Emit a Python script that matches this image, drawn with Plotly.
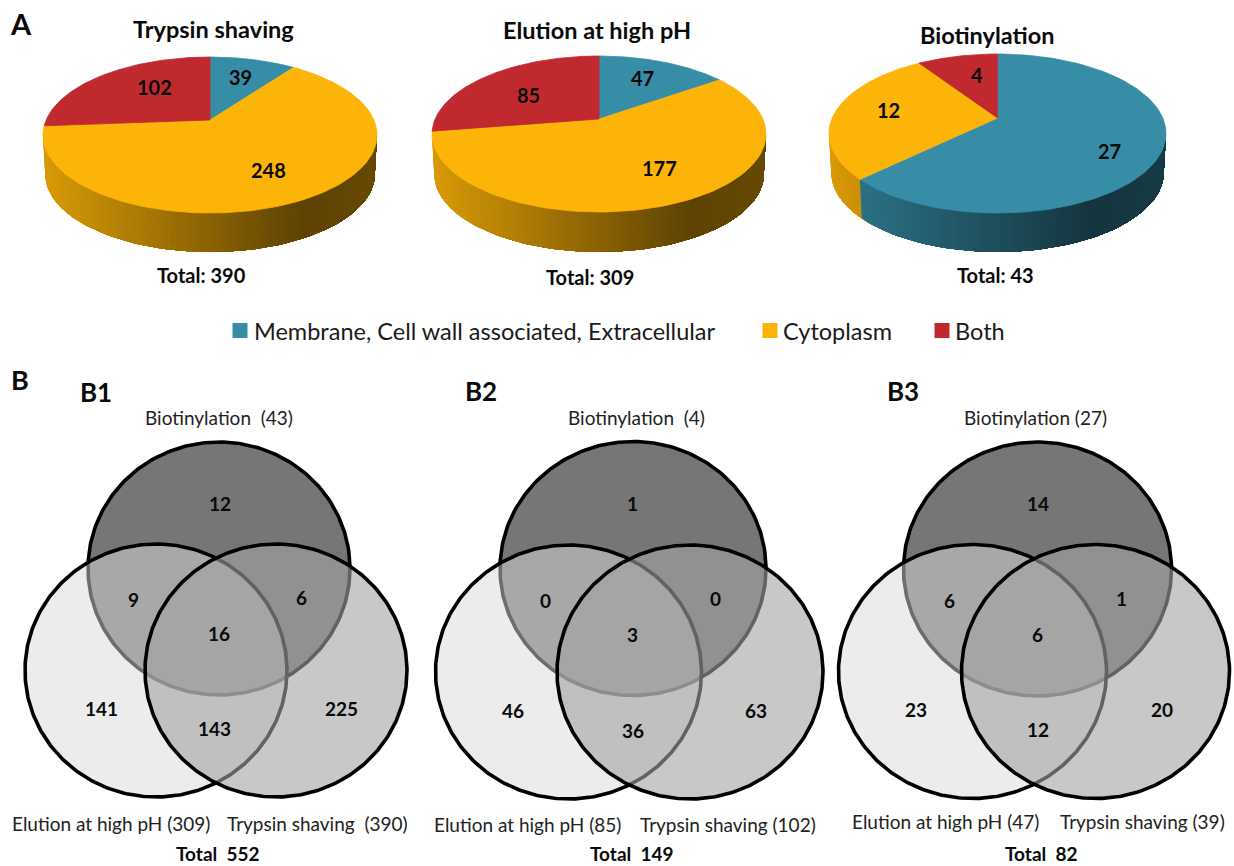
import numpy as np
import plotly.graph_objects as go

# ---------- data ----------
categories = ["Membrane, Cell wall associated, Extracellular", "Cytoplasm", "Both"]
pie_titles = ["Trypsin shaving", "Elution at high pH", "Biotinylation"]
pie_totals = ["Total: 390", "Total: 309", "Total: 43"]
trypsin_values = [39, 248, 102]
elution_values = [47, 177, 85]
biotin_values = [27, 12, 4]

venn_names = ["B1", "B2", "B3"]
venn_b1 = [12, 9, 6, 16, 141, 143, 225]
venn_b2 = [1, 0, 0, 3, 46, 36, 63]
venn_b3 = [14, 6, 1, 6, 23, 12, 20]
venn_top = ["Biotinylation  (43)", "Biotinylation  (4)", "Biotinylation (27)"]
venn_left = ["Elution at high pH (309)", "Elution at high pH (85)", "Elution at high pH (47)"]
venn_right = ["Trypsin shaving  (390)", "Trypsin shaving (102)", "Trypsin shaving (39)"]
venn_total = ["Total  552", "Total  149", "Total  82"]

# ---------- layout and style ----------
W, H = 1234, 866
FONT = "Lato"
INK = "#0a0a0a"
COL = ["#378ca6", "#fdb408", "#c02a2e"]
WALL = [(0.86, 0.38), (0.86, 0.37), (0.85, 0.37)]
# pie: centre x, apex y, rim up, rim down, half width, wall depth
PIE_GEO = [(210, 120, 63, 93, 167, 39), (599, 119, 63, 93, 167, 40), (997.5, 118, 64, 95, 168.5, 39)]
PIE_TITLE_POS = [(213, 29), (597, 30), (987, 35)]
PIE_TOTAL_POS = [(201, 275), (590, 277), (995, 275)]
PIE_LABEL_POS = [[(240, 77), (268, 170), (154, 87)],
                 [(642, 78), (659, 168), (528, 95)],
                 [(1109, 151), (888, 110), (977, 75)]]
LEG_SWATCH = [240, 770, 942]
LEG_TEXT = [252, 781, 953]
LEG_Y = 330.5
# venn: top (cx, cy), left (cx, cy), right (cx, cy), rx, ry
VENN_GEO = [((219, 568.5), (156, 670.5), (276, 670.5), 131, 126.5),
            ((633, 568.5), (568.5, 672), (690, 672), 133, 127),
            ((1037.5, 569), (972.5, 671.5), (1095.5, 671.5), 134, 127)]
VENN_NUM_POS = [[(220, 503), (133, 599), (301, 597), (219, 633), (101, 708), (214, 728), (341, 708)],
                [(632, 503), (545, 600), (715, 598), (632, 634), (513, 710), (633, 730), (756, 710)],
                [(1038, 503), (949, 600), (1121, 598), (1037, 634), (916, 709), (1038, 729), (1162, 709)]]
VENN_TOP_POS = [(219, 417), (636, 417), (1035, 417)]
VENN_LEFT_POS = [(111, 823), (527, 824), (945, 821)]
VENN_RIGHT_POS = [(317, 823), (727.5, 824), (1142, 821)]
VENN_TOTAL_POS = [(218, 853.5), (632, 853.5), (1041, 853.5)]
VENN_NAME_POS = [(96, 392), (481, 391), (902.5, 391)]
VENN_FILL = ["rgba(118,118,118,1)", "rgba(217,217,217,0.5)", "rgba(163,163,163,0.6)"]

fig = go.Figure()
annotations = []


def label(x, y, text, size, bold=False, anchor="center", color=INK):
    annotations.append(dict(
        x=x, y=y, xref="x", yref="y", text=f"<b>{text}</b>" if bold else text,
        showarrow=False, xanchor=anchor, yanchor="middle", align="center",
        font=dict(family=FONT, size=size, color=color)))


def poly(xs, ys, fill, line=None, width=0.8):
    fig.add_trace(go.Scatter(
        x=xs, y=ys, mode="lines", fill="toself", fillcolor=fill,
        line=dict(color=line or fill, width=width), hoverinfo="skip", showlegend=False))


def hex_rgb(c):
    return tuple(int(c[i:i + 2], 16) for i in (1, 3, 5))


def draw_pie(values, geo):
    cx, cy, up, down, half, depth = geo
    p = (down - up) / (down + up)                 # perspective strength
    k = up * (1 + p)
    R = half * np.sqrt(1 - p * p)

    def rim(theta):
        u, v = np.sin(theta), np.cos(theta)
        w = 1 + p * v
        return R * u / w, -k * v / w

    frac = np.cumsum(values) / np.sum(values) * 2 * np.pi
    edges = np.concatenate([[0], frac])

    # side wall: painted left to right, each layer reaching to the right end,
    # so that neighbouring shades leave no seams
    tang = np.arccos(-p)
    thetas = np.linspace(2 * np.pi - tang, tang, 90)
    s = 0.987
    for j in range(len(thetas) - 1):
        mid = (thetas[j] + thetas[j + 1]) / 2
        idx = min(int(np.searchsorted(edges, mid, side="right") - 1), len(values) - 1)
        # a slice boundary inside the wall starts its layer exactly at the boundary
        start = thetas[j]
        if idx + 1 < len(edges) and start > edges[idx + 1]:
            start = edges[idx + 1]
        th = np.r_[start, thetas[j + 1:]]
        x, y = rim(th)
        f = (rim(mid)[0] + half) / (2 * half)
        hi, lo = WALL[idx]
        shade = np.interp(f, [0, 0.78, 1], [hi, lo, lo + 0.04])
        col = "rgb(%d,%d,%d)" % tuple(int(c * shade) for c in hex_rgb(COL[idx]))
        poly(np.r_[cx + x, cx + s * x[::-1], cx + x[0]],
             np.r_[cy + y, cy + y[::-1] + depth, cy + y[0]], col, width=0)

    # top face
    for i in range(len(values)):
        th = np.linspace(edges[i], edges[i + 1], 120)
        x, y = rim(th)
        poly(np.r_[cx, cx + x, cx], np.r_[cy, cy + y, cy], COL[i])


for i, vals in enumerate([trypsin_values, elution_values, biotin_values]):
    draw_pie(vals, PIE_GEO[i])
    label(*PIE_TITLE_POS[i], pie_titles[i], 23.5, True)
    label(*PIE_TOTAL_POS[i], pie_totals[i], 20, True)
    for pos, v in zip(PIE_LABEL_POS[i], vals):
        label(*pos, str(v), 20, True)

# legend
fig.add_trace(go.Scatter(
    x=LEG_SWATCH, y=[LEG_Y] * 3, mode="markers", hoverinfo="skip", showlegend=False,
    marker=dict(symbol="square", size=15, color=COL, line=dict(width=0))))
for x, name in zip(LEG_TEXT, categories):
    label(x, LEG_Y, name, 23.5, False, "left", "#1a1a1a")

# venns
ang = np.linspace(0, 2 * np.pi, 361)
for i, nums in enumerate([venn_b1, venn_b2, venn_b3]):
    top, left, right, rx, ry = VENN_GEO[i]
    for c, fill in zip((top, left, right), VENN_FILL):
        poly(c[0] + rx * np.cos(ang), c[1] + ry * np.sin(ang), fill, "#000000", 3.6)
    for pos, v in zip(VENN_NUM_POS[i], nums):
        label(*pos, str(v), 19, True)
    label(*VENN_TOP_POS[i], venn_top[i], 19, False, color="#222222")
    label(*VENN_LEFT_POS[i], venn_left[i], 19, False, color="#222222")
    label(*VENN_RIGHT_POS[i], venn_right[i], 19, False, color="#222222")
    label(*VENN_TOTAL_POS[i], venn_total[i], 19, True)
    label(*VENN_NAME_POS[i], venn_names[i], 26, True)

label(21, 23, "A", 29, True)
label(20, 379, "B", 27, True)

fig.update_layout(
    width=W, height=H, margin=dict(l=0, r=0, t=0, b=0), autosize=False,
    paper_bgcolor="white", plot_bgcolor="white", showlegend=False,
    xaxis=dict(range=[0, W], visible=False, fixedrange=True),
    yaxis=dict(range=[H, 0], visible=False, fixedrange=True),
    annotations=annotations,
)
fig.write_html("out.html", config={"displayModeBar": False},
               post_script="document.body.style.margin='0';document.documentElement.style.overflow='hidden';")
